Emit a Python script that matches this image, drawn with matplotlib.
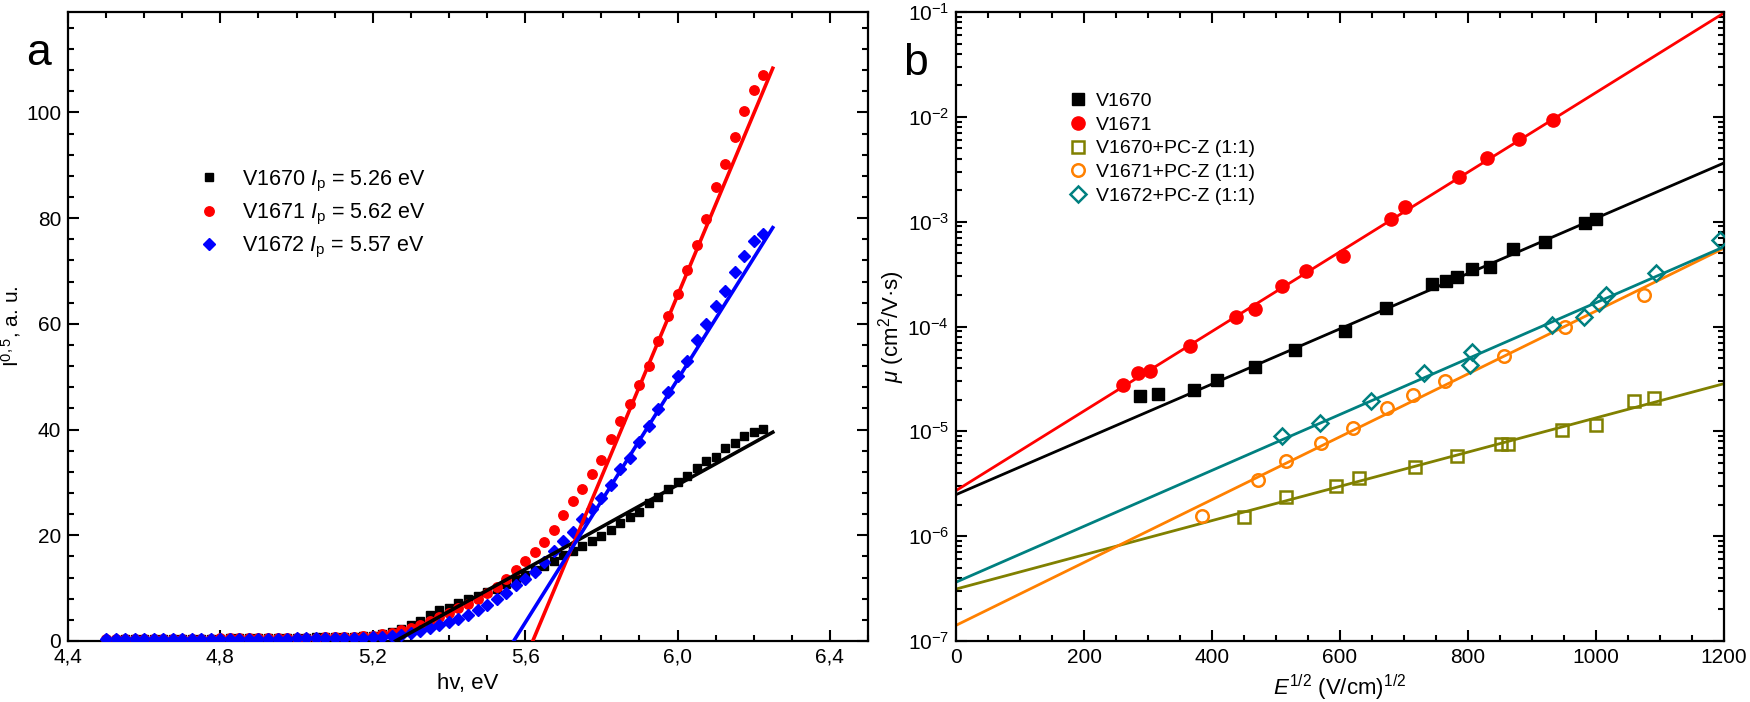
import numpy as np
import matplotlib
matplotlib.use('Agg')
import matplotlib.pyplot as plt
from matplotlib.ticker import MultipleLocator, LogLocator, NullFormatter

plt.rcParams['font.family'] = ['Liberation Sans', 'DejaVu Sans']
plt.rcParams['mathtext.fontset'] = 'custom'
plt.rcParams['mathtext.rm'] = 'Liberation Sans'
plt.rcParams['mathtext.it'] = 'Liberation Sans:italic'
plt.rcParams['mathtext.bf'] = 'Liberation Sans:bold'

# ---- panel a: photoemission, I^0.5 vs photon energy ----
hv = [4.5, 4.525, 4.55, 4.575, 4.6, 4.625, 4.65, 4.675, 4.7, 4.725,
      4.75, 4.775, 4.8, 4.825, 4.85, 4.875, 4.9, 4.925, 4.95, 4.975,
      5.0, 5.025, 5.05, 5.075, 5.1, 5.125, 5.15, 5.175, 5.2, 5.225,
      5.25, 5.275, 5.3, 5.325, 5.35, 5.375, 5.4, 5.425, 5.45, 5.475,
      5.5, 5.525, 5.55, 5.575, 5.6, 5.625, 5.65, 5.675, 5.7, 5.725,
      5.75, 5.775, 5.8, 5.825, 5.85, 5.875, 5.9, 5.925, 5.95, 5.975,
      6.0, 6.025, 6.05, 6.075, 6.1, 6.125, 6.15, 6.175, 6.2, 6.225]

i_1670 = [0.2, 0.2, 0.3, 0.3, 0.3, 0.3, 0.3, 0.4, 0.4, 0.4,
          0.4, 0.4, 0.4, 0.5, 0.5, 0.5, 0.5, 0.6, 0.6, 0.6,
          0.6, 0.6, 0.7, 0.7, 0.7, 0.8, 0.8, 0.9, 1.0, 1.4,
          1.7, 2.3, 3.1, 3.8, 4.9, 5.8, 6.3, 7.2, 7.9, 8.5,
          9.3, 9.9, 10.8, 11.8, 12.5, 13.4, 14.2, 15.2, 16.2, 17.1,
          17.9, 18.9, 19.9, 21.0, 22.4, 23.5, 24.5, 26.1, 27.2, 28.8,
          30.0, 31.3, 32.8, 34.0, 34.9, 36.6, 37.5, 38.7, 39.6, 40.2]

i_1671 = [0.3, 0.3, 0.3, 0.3, 0.3, 0.3, 0.4, 0.4, 0.4, 0.4,
          0.4, 0.4, 0.5, 0.5, 0.5, 0.5, 0.5, 0.5, 0.6, 0.6,
          0.6, 0.6, 0.6, 0.7, 0.7, 0.7, 0.8, 0.9, 1.0, 1.3,
          1.6, 2.0, 2.5, 3.1, 3.8, 4.5, 5.3, 6.2, 7.0, 7.9,
          9.1, 10.3, 11.8, 13.5, 15.1, 16.9, 18.8, 21.0, 23.9, 26.4,
          28.8, 31.6, 34.3, 38.2, 41.7, 44.8, 48.5, 52.0, 56.7, 61.4,
          65.7, 70.2, 75.0, 79.8, 85.9, 90.3, 95.4, 100.3, 104.3, 107.0]

i_1672 = [0.3, 0.3, 0.3, 0.3, 0.3, 0.3, 0.3, 0.3, 0.3, 0.3,
          0.3, 0.4, 0.4, 0.4, 0.4, 0.4, 0.4, 0.4, 0.4, 0.4,
          0.5, 0.5, 0.5, 0.5, 0.5, 0.5, 0.6, 0.6, 0.7, 0.8,
          1.0, 1.2, 1.5, 1.9, 2.4, 3.0, 3.6, 4.2, 4.9, 5.9,
          6.8, 8.0, 9.1, 10.6, 11.7, 13.1, 15.0, 17.1, 19.0, 20.7,
          23.0, 25.0, 27.1, 29.6, 32.6, 34.7, 37.6, 40.6, 43.8, 47.1,
          50.1, 53.0, 56.9, 59.9, 63.3, 66.2, 69.8, 72.9, 75.7, 77.0]

# linear fits: ionisation potential (x-intercept) and slope
ip_vals = [5.26, 5.62, 5.57]
ip_slopes = [39.9, 172.0, 115.0]
fit_end = 6.25

# ---- panel b: hole drift mobility vs sqrt(E) ----
e_1670 = [288, 315, 372, 408, 467, 529, 608, 672, 743, 766, 783, 807, 834, 871, 920, 983, 1000]
mu_1670 = [2.16e-5, 2.27e-5, 2.50e-5, 3.12e-5, 4.07e-5, 5.95e-5, 9.14e-5, 1.49e-4, 2.55e-4,
           2.73e-4, 2.96e-4, 3.57e-4, 3.68e-4, 5.48e-4, 6.37e-4, 9.67e-4, 1.07e-3]

e_1671 = [261, 285, 303, 366, 438, 467, 510, 547, 604, 680, 701, 786, 829, 880, 933]
mu_1671 = [2.77e-5, 3.62e-5, 3.73e-5, 6.57e-5, 1.23e-4, 1.46e-4, 2.45e-4, 3.40e-4, 4.72e-4,
           1.05e-3, 1.37e-3, 2.67e-3, 4.09e-3, 6.15e-3, 9.35e-3]

e_1670pc = [450, 516, 594, 630, 717, 783, 851, 862, 947, 1000, 1059, 1091]
mu_1670pc = [1.54e-6, 2.37e-6, 3.03e-6, 3.60e-6, 4.61e-6, 5.80e-6, 7.50e-6, 7.65e-6,
             1.03e-5, 1.16e-5, 1.95e-5, 2.07e-5]

e_1671pc = [385, 472, 516, 570, 620, 673, 714, 764, 857, 951, 1075]
mu_1671pc = [1.57e-6, 3.42e-6, 5.25e-6, 7.81e-6, 1.07e-5, 1.68e-5, 2.20e-5, 3.05e-5,
             5.18e-5, 9.79e-5, 2.00e-4]

e_1672pc = [509, 568, 648, 731, 803, 806, 931, 981, 1005, 1015, 1093, 1193]
mu_1672pc = [9.07e-6, 1.19e-5, 1.95e-5, 3.62e-5, 4.25e-5, 5.72e-5, 1.03e-4, 1.23e-4,
             1.66e-4, 2.00e-4, 3.27e-4, 6.68e-4]

# Poole-Frenkel fits: mu at zero field and mu at E^1/2 = 1200
mu0_fit = [2.49e-6, 2.72e-6, 3.13e-7, 1.41e-7, 3.64e-7]
mu1200_fit = [3.63e-3, 9.8e-2, 2.85e-5, 5.59e-4, 5.76e-4]


def style_axes(ax):
    ax.tick_params(which='both', direction='in', top=True, right=True,
                   labelsize=15, width=1.5, pad=5)
    ax.tick_params(which='major', length=8)
    ax.tick_params(which='minor', length=4.5)
    for s in ax.spines.values():
        s.set_linewidth(1.6)


fig = plt.figure(figsize=(17.5, 7.02), dpi=100)
ax1 = fig.add_axes([68 / 1750, 61 / 702, 800 / 1750, 629 / 702])
ax2 = fig.add_axes([956 / 1750, 61 / 702, 768 / 1750, 629 / 702])

# panel a
ax1.plot(hv, i_1670, 's', color='black', ms=6.2, mec='black',
         label='V1670 $\\mathit{I}_\\mathrm{p}$ = 5.26 eV', zorder=2)
ax1.plot(hv, i_1671, 'o', color='#ff0000', ms=6.8, mec='#ff0000',
         label='V1671 $\\mathit{I}_\\mathrm{p}$ = 5.62 eV', zorder=3)
ax1.plot(hv, i_1672, 'D', color='#0000ff', ms=6.2, mec='#0000ff',
         label='V1672 $\\mathit{I}_\\mathrm{p}$ = 5.57 eV', zorder=4)
for ip, k, c in zip(ip_vals, ip_slopes, ['black', '#ff0000', '#0000ff']):
    xs = np.array([ip, fit_end])
    ax1.plot(xs, k * (xs - ip), '-', color=c, lw=2.6, zorder=5)

ax1.set_xlim(4.4, 6.5)
ax1.set_ylim(0, 119)
ax1.xaxis.set_major_locator(MultipleLocator(0.4))
ax1.xaxis.set_minor_locator(MultipleLocator(0.1))
ax1.yaxis.set_major_locator(MultipleLocator(20))
ax1.yaxis.set_minor_locator(MultipleLocator(4))
ax1.xaxis.set_major_formatter(plt.FuncFormatter(lambda v, p: ('%.1f' % v).replace('.', ',')))
ax1.set_xlabel('hv, eV', fontsize=16, labelpad=4)
ax1.set_ylabel('I$^{0,5}$, a. u.', fontsize=15)
ax1.yaxis.set_label_coords(-0.056, 0.5)
style_axes(ax1)
ax1.legend(loc='upper left', bbox_to_anchor=(0.155, 0.765), frameon=False, fontsize=15.5,
           handlelength=0.8, handletextpad=1.1, labelspacing=0.38, borderaxespad=0)

# panel b
ax2.plot(e_1670, mu_1670, 's', color='black', ms=9, label='V1670', zorder=3)
ax2.plot(e_1671, mu_1671, 'o', color='#ff0000', ms=9.5, label='V1671', zorder=3)
ax2.plot(e_1670pc, mu_1670pc, 's', mfc='none', mec='#808000', mew=1.8, ms=8,
         label='V1670+PC-Z (1:1)', zorder=3)
ax2.plot(e_1671pc, mu_1671pc, 'o', mfc='none', mec='#ff8000', mew=1.8, ms=9,
         label='V1671+PC-Z (1:1)', zorder=3)
ax2.plot(e_1672pc, mu_1672pc, 'D', mfc='none', mec='#008080', mew=1.8, ms=8,
         label='V1672+PC-Z (1:1)', zorder=3)
xs = np.array([0, 1200])
for m0, m1, c in zip(mu0_fit, mu1200_fit, ['black', '#ff0000', '#808000', '#ff8000', '#008080']):
    ax2.plot(xs, [m0, m1], '-', color=c, lw=2, zorder=2)

ax2.set_yscale('log')
ax2.set_xlim(0, 1200)
ax2.set_ylim(1e-7, 1e-1)
ax2.xaxis.set_major_locator(MultipleLocator(200))
ax2.xaxis.set_minor_locator(MultipleLocator(50))
ax2.yaxis.set_major_locator(LogLocator(base=10, numticks=10))
ax2.yaxis.set_minor_locator(LogLocator(base=10, subs=np.arange(2, 10), numticks=20))
ax2.yaxis.set_minor_formatter(NullFormatter())
ax2.set_xlabel('$E^{1/2}$ (V/cm)$^{1/2}$', fontsize=16, labelpad=4)
ax2.set_ylabel('$\\mu$ (cm$^2$/V·s)', fontsize=16)
ax2.yaxis.set_label_coords(-0.064, 0.5)
style_axes(ax2)
ax2.legend(loc='upper left', bbox_to_anchor=(0.138, 0.885), frameon=False, fontsize=14,
           handlelength=0.8, handletextpad=0.55, labelspacing=0.32, borderaxespad=0)

fig.text(38 / 1750, 1 - 65 / 702, 'a', fontsize=32, ha='center', va='baseline')
fig.text(915 / 1750, 1 - 75 / 702, 'b', fontsize=32, ha='center', va='baseline')

fig.savefig('out.png', dpi=100)
